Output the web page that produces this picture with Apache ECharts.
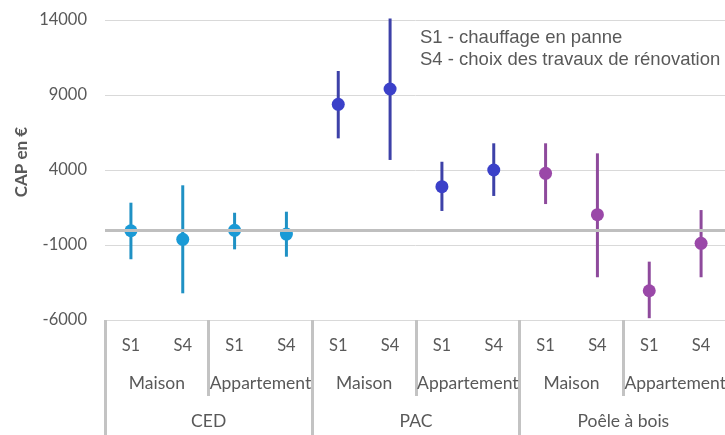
<html>
  <head>
    <meta charset="utf-8" />
    <script src="https://cdn.jsdelivr.net/npm/echarts@6/dist/echarts.min.js"></script>
  </head>
  <body>
    <style>
      html,
      body,
      #main {
        width: 100%;
        height: 100%;
        margin: 0;
        background: #fff;
      }
    </style>
    <div id="main"></div>
    <script>
      // three-level category axis
      const scenarios = ["S1", "S4", "S1", "S4", "S1", "S4", "S1", "S4", "S1", "S4", "S1", "S4"];
      const housing = ["Maison", "Appartement", "Maison", "Appartement", "Maison", "Appartement"];
      const systems = ["CED", "PAC", "Poêle à bois"];

      // CAP (€): central value and interval bounds
      const capValues = [-50, -620, -20, -270, 8380, 9400, 2890, 4000, 3780, 1020, -4050, -890];
      const capLow = [-1950, -4220, -1290, -1780, 6110, 4670, 1270, 2270, 1730, -3150, -5880, -3150];
      const capHigh = [1820, 2980, 1150, 1220, 10600, 14100, 4550, 5780, 5780, 5110, -2110, 1330];

      const yTicks = { min: -6000, max: 14000, step: 5000 };

      const dotColors = ["#1a9ad6", "#3b40c9", "#9a48a8"];
      const barColors = ["#1f91c4", "#3d41a8", "#8e4a9c"];
      const textColor = "#595959";
      const labelFont = "Lato";

      const chart = echarts.init(document.getElementById("main"));

      const sepLine = { color: "#c3c3c3", width: 3 };

      const option = {
        animation: false,
        grid: { left: 105, top: 20, width: 622, height: 300, containLabel: false, outerBoundsMode: "none" },
        xAxis: [
          {
            type: "category",
            position: "bottom",
            data: scenarios,
            axisLine: { show: false },
            axisTick: { show: false },
            axisLabel: { interval: 0, margin: 17, color: textColor, fontSize: 16.5, fontFamily: labelFont },
          },
          {
            type: "category",
            position: "bottom",
            data: housing,
            axisLine: { show: false },
            axisTick: { show: true, interval: 0, length: 76, lineStyle: sepLine },
            axisLabel: { interval: 0, margin: 54, color: textColor, fontSize: 17.5, fontFamily: labelFont },
          },
          {
            type: "category",
            position: "bottom",
            data: systems,
            axisLine: { show: false },
            axisTick: { show: true, interval: 0, length: 115, lineStyle: sepLine },
            axisLabel: { interval: 0, margin: 92, color: textColor, fontSize: 17.5, fontFamily: labelFont },
          },
        ],
        yAxis: {
          type: "value",
          min: yTicks.min,
          max: yTicks.max,
          interval: yTicks.step,
          axisLine: { show: false },
          axisTick: { show: false },
          axisLabel: {
            margin: 18,
            color: textColor,
            fontSize: 16.5,
            fontFamily: labelFont,
            formatter: (v) => String(v),
          },
          splitLine: { lineStyle: { color: "#d9d9d9", width: 1 } },
        },
        graphic: [
          {
            type: "text",
            x: 22,
            y: 162,
            rotation: Math.PI / 2,
            style: {
              text: "CAP en €",
              fill: textColor,
              font: "bold 17px Lato",
              textAlign: "center",
              textVerticalAlign: "middle",
            },
          },
          {
            type: "text",
            left: 420,
            top: 27,
            style: {
              text: "S1 - chauffage en panne\nS4 - choix des travaux de rénovation",
              fill: textColor,
              font: "18.5px 'Liberation Sans'",
              lineHeight: 22,
            },
          },
        ],
        series: [
          {
            type: "custom",
            clip: false,
            data: scenarios.map((s, i) => [i, capLow[i], capHigh[i]]),
            encode: { x: 0, y: [1, 2] },
            renderItem: function (params, api) {
              const i = api.value(0);
              const lo = api.coord([i, api.value(1)]);
              const hi = api.coord([i, api.value(2)]);
              return {
                type: "line",
                shape: { x1: lo[0], y1: lo[1], x2: hi[0], y2: hi[1] },
                style: { stroke: barColors[Math.floor(i / 4)], lineWidth: 3 },
              };
            },
            markLine: {
              silent: true,
              symbol: "none",
              label: { show: false },
              lineStyle: { color: "#bfbfbf", width: 3, type: "solid" },
              data: [{ yAxis: 0 }],
            },
            z: 3,
          },
          {
            type: "scatter",
            data: capValues.map((v, i) => [i, v]),
            symbolSize: 13,
            itemStyle: {
              opacity: 1,
              color: function (p) {
                return dotColors[Math.floor(p.dataIndex / 4)];
              },
            },
            z: 4,
          },
        ],
      };

      chart.setOption(option);
      window.onresize = chart.resize;
    </script>
  </body>
</html>
